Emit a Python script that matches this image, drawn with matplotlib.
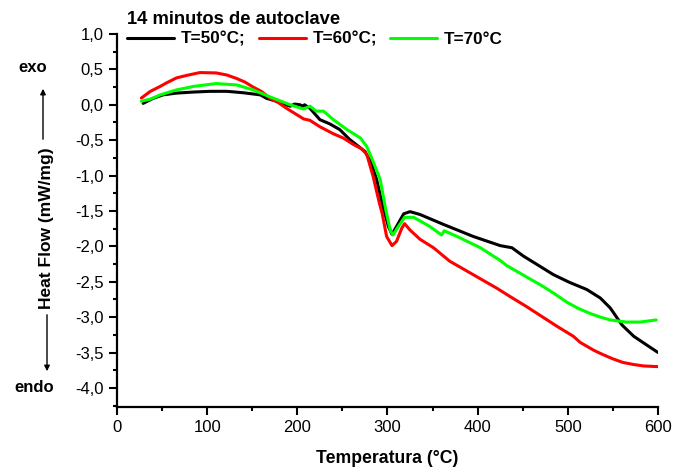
"""DSC curves, 14 minutos de autoclave."""

import matplotlib

matplotlib.use("Agg")

import matplotlib.pyplot as plt
from matplotlib.patches import FancyArrowPatch
from matplotlib.ticker import FuncFormatter, MultipleLocator

plt.rcParams["font.family"] = ["Liberation Sans", "DejaVu Sans"]

# T = 50 C
temp_50 = [29, 40, 51, 66, 85, 103, 122, 140, 159, 166, 177, 192, 197, 203, 206, 208, 214,
           225, 236, 247, 258, 270, 275, 282, 288, 295, 301, 305, 310, 318, 325, 336,
           362, 395, 425, 438, 451, 465, 484, 502, 521, 536, 547, 560, 573, 587, 600]
flow_50 = [0.02, 0.09, 0.14, 0.165, 0.18, 0.19, 0.19, 0.17, 0.14, 0.09, 0.05, -0.02, 0.01,
           0.0, -0.02, 0.0, -0.05, -0.21, -0.27, -0.35, -0.49, -0.61, -0.66, -0.82, -1.06,
           -1.44, -1.72, -1.83, -1.72, -1.54, -1.51, -1.55, -1.69, -1.86, -1.99, -2.02,
           -2.14, -2.25, -2.40, -2.51, -2.61, -2.73, -2.87, -3.11, -3.27, -3.39, -3.50]

# T = 60 C
temp_60 = [27, 37, 48, 55, 66, 79, 92, 110, 122, 133, 142, 151, 160, 170, 179, 188, 207,
           214, 225, 240, 251, 262, 271, 277, 284, 291, 294, 299, 305, 310, 316, 319, 325,
           336, 351, 369, 395, 421, 436, 454, 488, 506, 514, 529, 539, 550, 561, 573,
           584, 600]
flow_60 = [0.095, 0.19, 0.26, 0.31, 0.38, 0.42, 0.455, 0.45, 0.42, 0.37, 0.32, 0.25, 0.19,
           0.09, 0.03, -0.05, -0.20, -0.22, -0.31, -0.41, -0.47, -0.56, -0.62, -0.70,
           -1.01, -1.39, -1.53, -1.86, -1.99, -1.93, -1.74, -1.68, -1.77, -1.90, -2.02,
           -2.21, -2.40, -2.59, -2.71, -2.85, -3.13, -3.27, -3.36, -3.47, -3.53, -3.59,
           -3.64, -3.67, -3.69, -3.70]

# T = 70 C
temp_70 = [27, 37, 48, 66, 85, 110, 133, 151, 170, 192, 207, 214, 221, 229, 240, 255,
           270, 277, 284, 292, 298, 303, 306, 312, 319, 329, 347, 360, 363, 377, 403, 425,
           432, 447, 473, 484, 499, 512, 525, 536, 547, 565, 580, 598]
flow_70 = [0.05, 0.08, 0.14, 0.21, 0.26, 0.30, 0.28, 0.21, 0.11, 0.0, -0.06, -0.02, -0.09,
           -0.09, -0.21, -0.35, -0.47, -0.59, -0.80, -1.06, -1.48, -1.77, -1.84, -1.72,
           -1.59, -1.59, -1.72, -1.84, -1.78, -1.86, -2.02, -2.20, -2.27, -2.38, -2.57,
           -2.66, -2.79, -2.88, -2.95, -3.00, -3.04, -3.07, -3.07, -3.04]

SERIES = [
    (temp_50, flow_50, "#000000", "T=50°C;"),
    (temp_60, flow_60, "#ff0000", "T=60°C;"),
    (temp_70, flow_70, "#00ff00", "T=70°C"),
]


def comma_fmt(value, _pos):
    return f"{value:.1f}".replace(".", ",").replace("-0,0", "0,0")


def fx(px):
    return px / 680


def fy(py):
    return 1 - py / 473


fig = plt.figure(figsize=(6.8, 4.73), dpi=100)
ax = fig.add_axes([fx(117), fy(407), 541 / 680, (407 - 34) / 473])

for temps, flows, color, label in SERIES:
    ax.plot(temps, flows, color=color, linewidth=2.2, label=label,
            solid_joinstyle="round", solid_capstyle="round")

ax.set_xlim(0, 600)
ax.set_ylim(-4.27, 1.0)
ax.xaxis.set_major_locator(MultipleLocator(100))
ax.xaxis.set_minor_locator(MultipleLocator(50))
ax.yaxis.set_major_locator(MultipleLocator(0.5))
ax.yaxis.set_minor_locator(MultipleLocator(0.25))
ax.yaxis.set_major_formatter(FuncFormatter(comma_fmt))

for side in ["top", "right"]:
    ax.spines[side].set_visible(False)
for side in ["left", "bottom"]:
    ax.spines[side].set_linewidth(1.6)

ax.tick_params(which="major", direction="out", length=6, width=1.5, labelsize=12)
ax.tick_params(which="minor", direction="out", length=3, width=1.5)

ax.set_xlabel("Temperatura (°C)", fontsize=12.7, fontweight="bold", labelpad=11)

# y label with exo/endo arrows
fig.text(fx(47), fy(228), "Heat Flow (mW/mg)", rotation=90, ha="center", va="center",
         fontsize=12.5, fontweight="bold")
fig.text(fx(33), fy(67), "exo", ha="center", va="center", fontsize=12, fontweight="bold")
fig.text(fx(34), fy(387), "endo", ha="center", va="center", fontsize=12, fontweight="bold")
arrow = dict(arrowstyle="-|>", color="black", linewidth=1.0, mutation_scale=8)
fig.add_artist(FancyArrowPatch((fx(43), fy(142)), (fx(43), fy(86)),
                               transform=fig.transFigure, **arrow))
fig.add_artist(FancyArrowPatch((fx(47), fy(312)), (fx(47), fy(374)),
                               transform=fig.transFigure, **arrow))

ax.legend(
    loc="upper left",
    bbox_to_anchor=(fx(117), fy(1)),
    bbox_transform=fig.transFigure,
    ncol=3,
    frameon=False,
    title="14 minutos de autoclave",
    alignment="left",
    prop={"weight": "bold", "size": 12.3},
    title_fontproperties={"weight": "bold", "size": 13.2},
    handlelength=2.75,
    handletextpad=0.4,
    columnspacing=0.75,
    borderpad=0.1,
    labelspacing=0.2,
)

fig.savefig("out.png", dpi=100)
